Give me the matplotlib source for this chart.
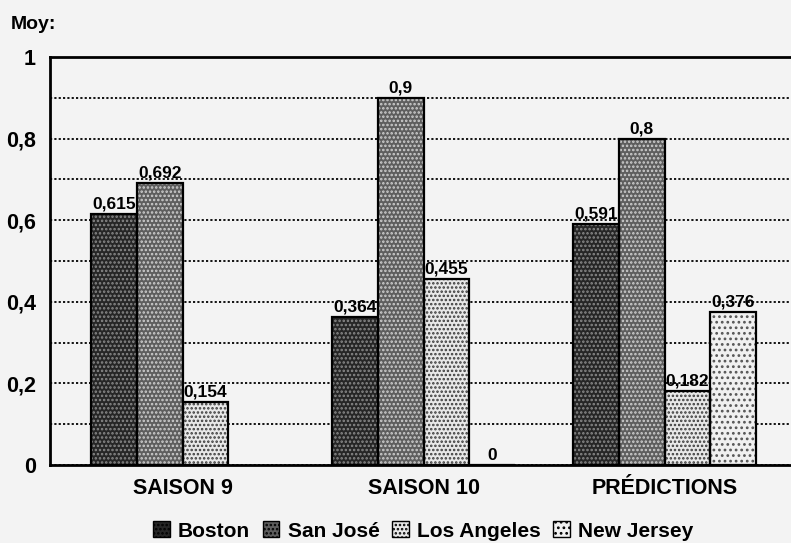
import matplotlib.pyplot as plt
import matplotlib.patches as mpatches
import numpy as np

plt.rcParams["font.family"] = ["Liberation Sans", "DejaVu Sans"]
plt.rcParams["font.weight"] = "bold"
plt.rcParams["hatch.linewidth"] = 1.2

# donnees
groupes = ["SAISON 9", "SAISON 10", "PRÉDICTIONS"]
equipes = ["Boston", "San José", "Los Angeles", "New Jersey"]
boston = [0.615, 0.364, 0.591]
san_jose = [0.692, 0.9, 0.8]
los_angeles = [0.154, 0.455, 0.182]
new_jersey = [np.nan, 0, 0.376]
etiquettes_y = ["0", "0,2", "0,4", "0,6", "0,8", "1"]

series = [boston, san_jose, los_angeles, new_jersey]
# fond, couleur des points, motif
styles = [("#262626", "#8a8a8a", "...."),
          ("#5e5e5e", "#cfcfcf", "...."),
          ("#e8e8e8", "#3a3a3a", "...."),
          ("#f0f0f0", "#555555", "...")]

fond = "#f3f3f3"
fig = plt.figure(figsize=(7.91, 5.43), dpi=100, facecolor=fond)
ax = fig.add_axes([0.0632, 0.1436, 0.9355, 0.7514], facecolor=fond)

x = np.arange(len(groupes))
w = 0.19
for j, vals in enumerate(series):
    fc, hc, h = styles[j]
    pos = x + (j - 1.5) * w
    ax.bar(pos, vals, w, color=fc, edgecolor=hc, hatch=h, linewidth=0, zorder=3)
    ax.bar(pos, vals, w, fill=False, edgecolor="black", linewidth=1.6, zorder=4)
    for p, v in zip(pos, vals):
        if np.isnan(v):
            continue
        txt = ("%g" % v).replace(".", ",")
        ax.text(p, v + 0.006, txt, ha="center", va="bottom", fontsize=12.5,
                fontweight="bold", zorder=5)

ax.set_xlim(-0.55, 2.52)
ax.set_ylim(0, 1)
ax.set_yticks(np.arange(0, 1.01, 0.2))
ax.set_yticklabels(etiquettes_y, fontsize=15.5, fontweight="bold")
ax.set_yticks(np.arange(0.1, 1.0, 0.2), minor=True)
ax.set_xticks(x)
ax.set_xticklabels(groupes, fontsize=15.5, fontweight="bold")
ax.tick_params(axis="both", which="both", length=0)
ax.tick_params(axis="y", pad=10)
ax.tick_params(axis="x", pad=9)
ax.grid(axis="y", which="both", linestyle=(0, (1.2, 1.2)), color="black",
        linewidth=1.3, zorder=1)
for s in ["left", "bottom", "top"]:
    ax.spines[s].set_linewidth(2)
ax.spines["right"].set_visible(False)

fig.text(0.013, 0.955, "Moy:", fontsize=14, fontweight="bold", va="center")

poignees = [mpatches.Patch(facecolor=styles[j][0], edgecolor="black",
                           hatch=styles[j][2], linewidth=1) for j in range(4)]
leg = fig.legend(poignees, equipes, loc="center", bbox_to_anchor=(0.535, 0.022),
                 ncol=4, frameon=False, fontsize=15, handlelength=0.8,
                 handleheight=0.8, handletextpad=0.4, columnspacing=0.6)

plt.savefig("out.png", dpi=100, facecolor=fond)
